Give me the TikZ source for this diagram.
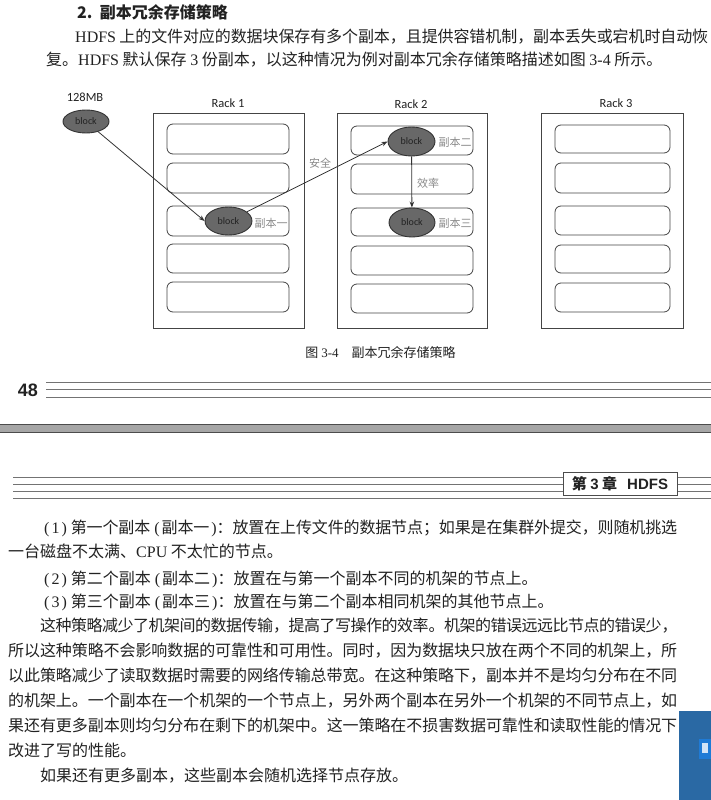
\documentclass[tikz,border=0pt]{standalone}
\usepackage{fontspec}
\setmainfont{Liberation Serif}
\newfontfamily\cjk{Noto Sans CJK SC}
\newfontfamily\lat{Liberation Serif}
\newfontfamily\calfont{Carlito}
\newfontfamily\hel{Liberation Sans}
\usetikzlibrary{shapes.geometric,arrows.meta}
\XeTeXlinebreaklocale "zh"
\XeTeXlinebreakskip=0pt plus 4pt minus 0.5pt
\XeTeXlinebreakpenalty=10000
\newcommand\fline[2]{\parbox[b]{#1}{\parfillskip=0pt\relax\noindent #2}}
\newcommand\lpar{\hspace{4pt}{\lat(}\hspace{2pt}}
\newcommand\rpar{\hspace{2pt}{\lat)}\hspace{4pt}}
\newcommand\rparc{\hspace{2pt}{\lat)}}
\definecolor{ink}{HTML}{222222}
\definecolor{dline}{HTML}{444444}
\definecolor{lbl}{HTML}{8A8A8A}
\definecolor{blk}{HTML}{686868}
\definecolor{bluepanel}{HTML}{2A69A4}
\definecolor{blueicon}{HTML}{1F7BD6}
\tikzset{
  txt/.style={anchor=base west, inner sep=0pt, text=ink, font=\cjk\fontsize{16}{20}\selectfont},
  rack/.style={draw=dline, line width=0.9pt},
  rowbox/.style={draw=dline, line width=0.8pt, rounded corners=6pt},
  blocknode/.style={ellipse, draw=black!80, line width=0.9pt, fill=blk, inner sep=0pt, text=ink, font=\calfont\fontsize{10}{10}\selectfont},
  racklabel/.style={text=ink, font=\calfont\fontsize{12.5}{13}\selectfont},
  graylbl/.style={text=lbl, font=\cjk\fontsize{11}{11}\selectfont},
  arr/.style={draw=black!80, line width=0.8pt, -{Stealth[length=6pt,width=4.5pt]}},
  rule/.style={draw=black!55, line width=0.8pt}
}
\begin{document}
\begin{tikzpicture}[x=1pt,y=-1pt]
\path[use as bounding box, fill=white] (0,0) rectangle (711,800);

% ---------- upper page text ----------
\node[txt, font=\cjk\bfseries\fontsize{16}{20}\selectfont] (title) at (77,19) {2.\ \ 副本冗余存储策略};
\node[txt] (u1) at (75,43) {\fline{633pt}{{\lat HDFS}~上的文件对应的数据块保存有多个副本，且提供容错机制，副本丢失或宕机时自动恢}};
\node[txt] (u2) at (46,66) {复。{\lat HDFS}~默认保存~{\lat 3}~份副本，以这种情况为例对副本冗余存储策略描述如图~{\lat 3-4}~所示。};

% ---------- diagram ----------
\node[racklabel] (r1l) at (228,103) {Rack 1};
\node[racklabel] (r2l) at (411,104) {Rack 2};
\node[racklabel] (r3l) at (616,103) {Rack 3};
\node[racklabel] (mb) at (85,97) {128MB};

\draw[rack] (153,113) rectangle (304,328);
\draw[rack] (337,113) rectangle (487,328);
\draw[rack] (541,113) rectangle (683,328);

\foreach \a/\b in {124/154,163/193,206/236,244/273,282/312}{
  \draw[rowbox] (167,\a) rectangle (289,\b);}
\foreach \a/\b in {126/155,164/194,208/236,246/275,284/313}{
  \draw[rowbox] (351,\a) rectangle (473,\b);}
\foreach \a/\b in {125/153,163/193,206/235,245/273,283/312}{
  \draw[rowbox] (555,\a) rectangle (670,\b);}

\node[blocknode, minimum width=46pt, minimum height=23pt] (b0) at (86,121.5) {block};
\node[blocknode, minimum width=47pt, minimum height=28pt] (b1) at (228.5,221) {block};
\node[blocknode, minimum width=47pt, minimum height=29pt] (b2) at (411.5,141.5) {block};
\node[blocknode, minimum width=46pt, minimum height=29pt] (b3) at (412,222.5) {block};

\node[graylbl] (c1) at (271,223) {副本一};
\node[graylbl] (c2) at (455,142) {副本二};
\node[graylbl] (c3) at (455,223) {副本三};
\node[graylbl] (safe) at (320,163) {安全};
\node[graylbl] (eff) at (428,183) {效率};

\draw[arr] (b0) -- (b1.west);
\draw[arr] (b1) -- (b2.west);
\draw[arr] (b2) -- (b3);

\node[text=ink, font=\cjk\fontsize{13}{13}\selectfont] (cap) at (380.5,352) {图~{\lat 3-4}\quad 副本冗余存储策略};

% ---------- footer of upper page ----------
\node[text=ink, font=\hel\bfseries\fontsize{18}{18}\selectfont] (pg) at (28,390) {48};
\draw[rule] (46,382) -- (711,382);
\draw[rule] (46,389.5) -- (711,389.5);
\draw[rule] (46,397) -- (711,397);

% ---------- page separator ----------
\fill[black!35] (0,424) rectangle (711,432);
\draw[black!70, line width=1pt] (0,424) -- (711,424);
\draw[black!70, line width=1pt] (0,432) -- (711,432);

% ---------- header of lower page ----------
\foreach \yy in {477,484,491,498}{\draw[rule] (13,\yy) -- (711,\yy);}
\node[draw=black!70, line width=0.8pt, fill=white, minimum width=114pt, minimum height=23pt, inner sep=0pt, text=ink] (hdr) at (620,483.5) {{\cjk\bfseries\fontsize{15}{15}\selectfont 第~{\hel 3}~章}\quad{\hel\bfseries\fontsize{15}{15}\selectfont HDFS}};

% ---------- lower page text ----------
\node[txt] (p1) at (40,533) {\fline{637pt}{\lpar{\lat 1}\rpar 第一个副本\lpar 副本一\rparc ：放置在上传文件的数据节点；如果是在集群外提交，则随机挑选}};
\node[txt] (p2) at (8,557) {一台磁盘不太满、{\lat CPU}~不太忙的节点。};
\node[txt] (p3) at (40,584) {\lpar{\lat 2}\rpar 第二个副本\lpar 副本二\rparc ：放置在与第一个副本不同的机架的节点上。};
\node[txt] (p4) at (40,607) {\lpar{\lat 3}\rpar 第三个副本\lpar 副本三\rparc ：放置在与第二个副本相同机架的其他节点上。};
\node[txt] (p5) at (40,631) {\fline{637pt}{这种策略减少了机架间的数据传输，提高了写操作的效率。机架的错误远远比节点的错误少，}};
\node[txt] (p6) at (8,656) {\fline{669pt}{所以这种策略不会影响数据的可靠性和可用性。同时，因为数据块只放在两个不同的机架上，所}};
\node[txt] (p7) at (8,681) {\fline{669pt}{以此策略减少了读取数据时需要的网络传输总带宽。在这种策略下，副本并不是均匀分布在不同}};
\node[txt] (p8) at (8,706) {\fline{669pt}{的机架上。一个副本在一个机架的一个节点上，另外两个副本在另外一个机架的不同节点上，如}};
\node[txt] (p9) at (8,731) {\fline{669pt}{果还有更多副本则均匀分布在剩下的机架中。这一策略在不损害数据可靠性和读取性能的情况下}};
\node[txt] (p10) at (8,756) {改进了写的性能。};
\node[txt] (p11) at (40,781) {如果还有更多副本，这些副本会随机选择节点存放。};

% ---------- blue screen corner ----------
\fill[bluepanel] (679,711) rectangle (711,800);
\fill[blueicon] (699,739) rectangle (711,759);
\fill[white!80!blueicon] (702,743) rectangle (708,753);
\end{tikzpicture}
\end{document}
